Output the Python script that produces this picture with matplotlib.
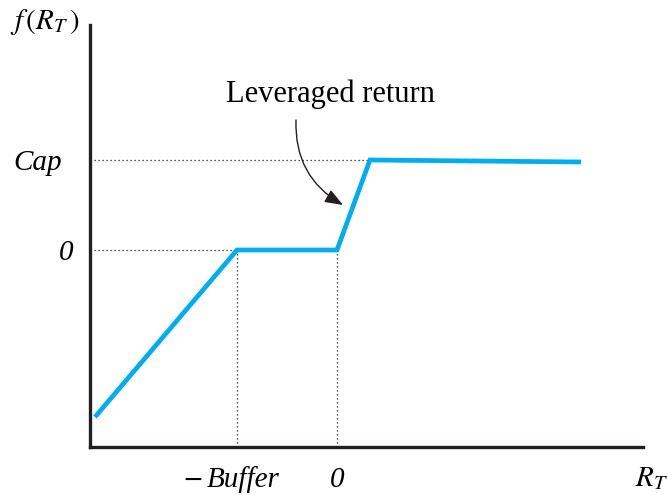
import matplotlib
matplotlib.use("Agg")
import matplotlib.pyplot as plt

# Payoff kinks (R_T, f(R_T))
buffer_x = -1.0
cap_y = 0.9
line_x = [-2.42, -1.0, 0.0, 0.33, 2.44]
line_y = [-1.67, 0.0, 0.0, 0.90, 0.88]

ytick_vals = [cap_y, 0.0]
ytick_labels = ["Cap", "0"]
xtick_vals = [buffer_x, 0.0]
xtick_labels = ["Buffer", "0"]

W, H = 668, 495
fig = plt.figure(figsize=(W / 100, H / 100), dpi=100)
L, R, T, B = 90, 643, 25, 447
ax = fig.add_axes([L / W, 1 - B / H, (R - L) / W, (B - T) / H])

xmin, xmax = -2.47, 3.06
ymin, ymax = -1.97, 2.25
ax.set_xlim(xmin, xmax)
ax.set_ylim(ymin, ymax)

dark = "#231f20"
for s in ["top", "right"]:
    ax.spines[s].set_visible(False)
for s in ["left", "bottom"]:
    ax.spines[s].set_color(dark)
    ax.spines[s].set_linewidth(2.4)
ax.set_xticks([])
ax.set_yticks([])

dot = dict(color=dark, linewidth=0.9, linestyle=(0, (1, 2.2)))
ax.plot([xmin, line_x[3]], [cap_y, cap_y], **dot)
ax.plot([xmin, line_x[1]], [0, 0], **dot)
ax.plot([buffer_x, buffer_x], [ymin, 0], **dot)
ax.plot([0, 0], [ymin, 0], **dot)

ax.plot(line_x, line_y, color="#00aeef", linewidth=3.4, solid_joinstyle="miter",
        solid_capstyle="butt")

serif = "Liberation Serif"
fs = 21
# y labels (right edges in data x, left of the axis)
ylab_right = [-2.75, -2.64]
for v, lab, xr in zip(ytick_vals, ytick_labels, ylab_right):
    ax.text(xr, v, lab, ha="right", va="center_baseline",
            fontsize=fs, family=serif, style="italic", clip_on=False)
# x labels
lab_y = -2.27
ax.text(buffer_x - 0.55, lab_y, "\u2212", ha="left", va="center_baseline",
        fontsize=18, family="DejaVu Sans", clip_on=False)
ax.text(buffer_x - 0.30, lab_y, xtick_labels[0], ha="left", va="center_baseline",
        fontsize=fs, family=serif, style="italic", clip_on=False)
ax.text(xtick_vals[1], lab_y, xtick_labels[1], ha="center", va="center_baseline",
        fontsize=fs, family=serif, style="italic", clip_on=False)

fig.text(652 / W, 1 - 478 / H, r"$R_T$", ha="center", va="center", fontsize=21,
         math_fontfamily="stix")
fig.text(45 / W, 1 - 22 / H, r"$f\,(R_T\,)$", ha="center", va="center", fontsize=21,
         math_fontfamily="stix")

ax.text(-0.07, 1.48, "Leveraged return", ha="center", va="baseline", fontsize=22,
        family=serif)
ax.annotate("", xy=(0.06, 0.45), xytext=(-0.41, 1.30),
            arrowprops=dict(arrowstyle="-|>,head_length=1.1,head_width=0.42",
                            connectionstyle="arc3,rad=0.3", color=dark, lw=1.0,
                            shrinkA=0, shrinkB=0))
fig.savefig("out.png", dpi=100)
